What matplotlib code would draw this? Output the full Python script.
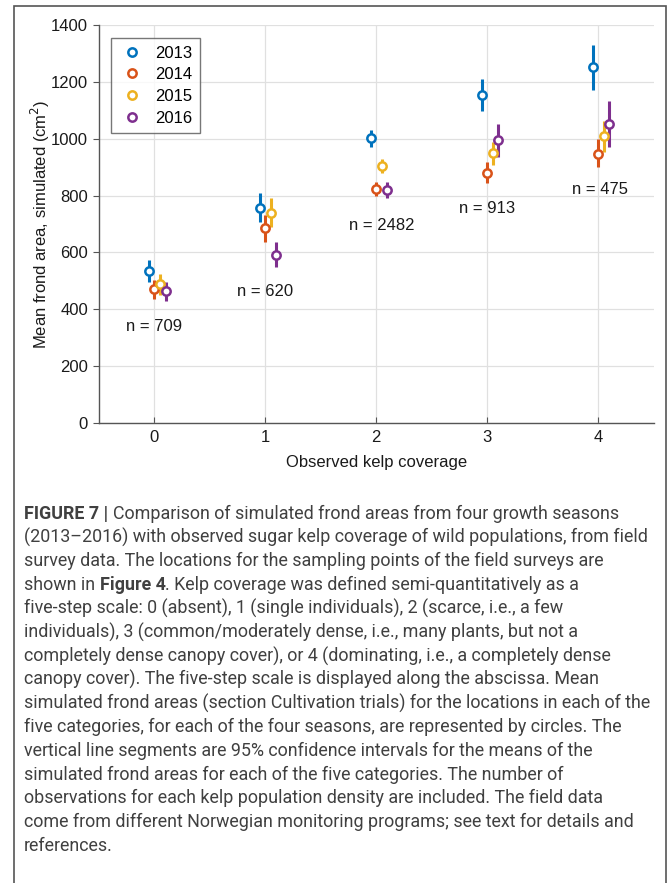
import matplotlib
matplotlib.use("Agg")
import matplotlib.pyplot as plt
from matplotlib.lines import Line2D
from matplotlib.patches import Rectangle

plt.rcParams["font.family"] = ["Liberation Sans", "DejaVu Sans"]

W, H = 670, 883

# 観測された被度カテゴリと年ごとの平均値・95%信頼区間
coverage = [0, 1, 2, 3, 4]
years = ["2013", "2014", "2015", "2016"]
colors = ["#0072BD", "#D95319", "#EDB120", "#7E2F8E"]
offsets = [-0.05, 0.0, 0.05, 0.1]

mean_2013 = [535, 756, 1002, 1154, 1252]
low_2013 = [496, 707, 971, 1097, 1171]
high_2013 = [573, 809, 1031, 1210, 1330]

mean_2014 = [471, 686, 823, 879, 946]
low_2014 = [436, 637, 798, 844, 900]
high_2014 = [503, 731, 848, 918, 999]

mean_2015 = [489, 739, 904, 950, 1009]
low_2015 = [450, 689, 879, 907, 953]
high_2015 = [524, 791, 929, 988, 1062]

mean_2016 = [464, 591, 820, 995, 1052]
low_2016 = [429, 549, 791, 936, 971]
high_2016 = [496, 637, 848, 1052, 1133]

means = [mean_2013, mean_2014, mean_2015, mean_2016]
lows = [low_2013, low_2014, low_2015, low_2016]
highs = [high_2013, high_2014, high_2015, high_2016]

n_labels = ["n = 709", "n = 620", "n = 2482", "n = 913", "n = 475"]
n_x = [0.0, 1.0, 2.05, 3.0, 4.02]
n_y = [338, 464, 693, 756, 823]

caption = [
    [("FIGURE 7 | ", "bold"), ("Comparison of simulated frond areas from four growth seasons", "normal")],
    [("(2013–2016) with observed sugar kelp coverage of wild populations, from field", "normal")],
    [("survey data. The locations for the sampling points of the field surveys are", "normal")],
    [("shown in ", "normal"), ("Figure 4", "bold"), (". Kelp coverage was defined semi-quantitatively as a", "normal")],
    [("five-step scale: 0 (absent), 1 (single individuals), 2 (scarce, i.e., a few", "normal")],
    [("individuals), 3 (common/moderately dense, i.e., many plants, but not a", "normal")],
    [("completely dense canopy cover), or 4 (dominating, i.e., a completely dense", "normal")],
    [("canopy cover). The five-step scale is displayed along the abscissa. Mean", "normal")],
    [("simulated frond areas (section Cultivation trials) for the locations in each of the", "normal")],
    [("five categories, for each of the four seasons, are represented by circles. The", "normal")],
    [("vertical line segments are 95% confidence intervals for the means of the", "normal")],
    [("simulated frond areas for each of the five categories. The number of", "normal")],
    [("observations for each kelp population density are included. The field data", "normal")],
    [("come from different Norwegian monitoring programs; see text for details and", "normal")],
    [("references.", "normal")],
]
CAPTION_FONT = ["Roboto", "DejaVu Sans"]

fig = plt.figure(figsize=(W / 100, H / 100), dpi=100)

# 外枠
fig.patches.append(Rectangle((14 / W, -0.01), (666 - 14) / W, 1 - 6 / H + 0.01,
                             transform=fig.transFigure, fill=False,
                             edgecolor="#555555", linewidth=1.2))

ax = fig.add_axes([99 / W, 1 - 423 / H, (653.5 - 99) / W, (423 - 25) / H])

for yi in range(len(years)):
    for ci, c in enumerate(coverage):
        x = c + offsets[yi]
        ax.plot([x, x], [lows[yi][ci], highs[yi][ci]], color=colors[yi], lw=2.2,
                solid_capstyle="butt", zorder=3)
        ax.plot(x, means[yi][ci], marker="o", ms=6, mfc="white", mec=colors[yi],
                mew=1.8, ls="none", zorder=4)

for lbl, x, y in zip(n_labels, n_x, n_y):
    ax.text(x, y, lbl, ha="center", va="center", fontsize=12, color="#1a1a1a")

ax.set_xlim(-0.5, 4.5)
ax.set_ylim(0, 1400)
ax.set_xticks(coverage)
ax.set_yticks(range(0, 1401, 200))
ax.grid(True, color="#e0e0e0", lw=0.9)
ax.set_axisbelow(True)
for s in ["top", "right"]:
    ax.spines[s].set_visible(False)
for s in ["left", "bottom"]:
    ax.spines[s].set_color("#555555")
    ax.spines[s].set_linewidth(1.0)
ax.tick_params(axis="both", labelsize=12, colors="#555555", labelcolor="#1a1a1a", length=4)
ax.tick_params(axis="x", direction="in", pad=5)
ax.tick_params(axis="y", direction="out", pad=4)
ax.set_xlabel("Observed kelp coverage", fontsize=12, color="#1a1a1a", labelpad=7)
ax.set_ylabel("Mean frond area, simulated (cm$^2$)", fontsize=12, color="#1a1a1a", labelpad=-1)

handles = [Line2D([], [], marker="o", ls="none", ms=6, mfc="white", mec=c, mew=1.8)
           for c in colors]
leg = ax.legend(handles, years, loc="upper left", bbox_to_anchor=(0.0216, 0.967),
                borderaxespad=0, fontsize=12, frameon=True, fancybox=False,
                handlelength=1.6, handletextpad=0.6, labelspacing=0.4, borderpad=0.45)
leg.get_frame().set_edgecolor("#555555")
leg.get_frame().set_linewidth(1.0)

# キャプション（太字部分を含むので1行ずつ区切って配置）
fig.canvas.draw()
renderer = fig.canvas.get_renderer()

# 2行目の幅が元図（約625px）に合うように文字サイズを決める
probe = fig.text(0, 0, caption[1][0][0], fontsize=12, family=CAPTION_FONT)
size = 12 * 625 / probe.get_window_extent(renderer).width
probe.remove()

y0, dy = 514, 23.7
for li, parts in enumerate(caption):
    x = 24
    y = y0 + li * dy
    for txt, weight in parts:
        t = fig.text(x / W, 1 - y / H, txt, fontsize=size, fontweight=weight,
                     va="center", ha="left", color="#404040", family=CAPTION_FONT)
        x += t.get_window_extent(renderer).width

fig.savefig("out.png", dpi=100)
